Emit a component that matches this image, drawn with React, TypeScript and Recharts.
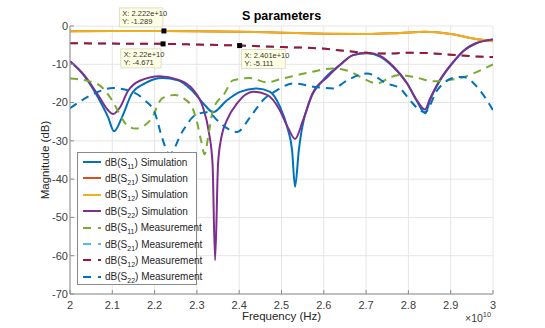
import { CartesianGrid, Line, LineChart, ReferenceDot, XAxis, YAxis } from "recharts";

// frequency in units of 1e10 Hz, magnitude in dB
const freqTicks = [2, 2.1, 2.2, 2.3, 2.4, 2.5, 2.6, 2.7, 2.8, 2.9, 3];
const dbTicks = [-70, -60, -50, -40, -30, -20, -10, 0];

const s11Sim = [
  [2.0, -9.2], [2.035, -13.2], [2.066, -18.6], [2.09, -23.8], [2.104, -27.5], [2.123, -23.8],
  [2.147, -17.5], [2.177, -15.0], [2.218, -13.6], [2.255, -14.2], [2.288, -16.8], [2.319, -20.7],
  [2.338, -22.5], [2.371, -19.4], [2.402, -17.2], [2.442, -16.3], [2.473, -17.2], [2.496, -21.0],
  [2.515, -27.0], [2.525, -32.4], [2.532, -42.0], [2.541, -32.4], [2.548, -27.0], [2.567, -19.4],
  [2.598, -14.2], [2.638, -10.2], [2.669, -7.6], [2.702, -7.1], [2.733, -8.0], [2.764, -10.7],
  [2.797, -15.0], [2.82, -19.6], [2.84, -22.8], [2.851, -19.4], [2.875, -14.2], [2.905, -9.6],
  [2.93, -6.5], [2.96, -4.5], [3.0, -3.5],
];

const s22Sim = [
  [2.0, -9.2], [2.035, -13.0], [2.066, -18.0], [2.09, -22.0], [2.102, -23.0], [2.118, -21.3],
  [2.137, -17.0], [2.165, -14.3], [2.212, -13.1], [2.255, -14.0], [2.29, -16.5], [2.315, -21.5],
  [2.328, -27.5], [2.337, -36.0], [2.343, -61.2], [2.35, -36.0], [2.358, -29.0], [2.371, -24.6],
  [2.395, -20.2], [2.433, -17.2], [2.466, -18.0], [2.496, -22.0], [2.515, -26.5], [2.532, -29.5],
  [2.551, -24.6], [2.574, -17.5], [2.608, -13.4], [2.638, -10.2], [2.669, -7.6], [2.702, -7.0],
  [2.733, -7.8], [2.764, -10.5], [2.797, -15.0], [2.82, -19.4], [2.839, -21.8], [2.851, -19.0],
  [2.875, -14.0], [2.905, -9.5], [2.93, -6.5], [2.96, -4.5], [3.0, -3.5],
];

const s12Sim = [
  [2.0, -1.4], [2.1, -1.3], [2.222, -1.289], [2.3, -1.35], [2.4, -1.5], [2.5, -1.75],
  [2.6, -2.0], [2.7, -2.1], [2.78, -1.8], [2.84, -1.5], [2.9, -2.1], [2.95, -3.2], [3.0, -4.0],
];
const s21Sim = s12Sim;

const s11Meas = [
  [2.0, -13.7], [2.04, -14.3], [2.07, -15.5], [2.1, -19.5], [2.12, -23.5], [2.135, -26.0],
  [2.155, -26.8], [2.19, -24.6], [2.218, -18.9], [2.248, -18.0], [2.27, -19.0], [2.29, -21.5],
  [2.3, -25.0], [2.31, -30.0], [2.318, -33.5], [2.328, -28.0], [2.338, -22.0], [2.366, -17.5],
  [2.385, -14.2], [2.425, -13.6], [2.465, -14.7], [2.5, -13.8], [2.567, -12.1], [2.62, -11.1],
  [2.66, -11.8], [2.686, -13.3], [2.726, -15.0], [2.755, -13.5], [2.78, -12.8], [2.82, -13.5],
  [2.858, -14.4], [2.92, -13.7], [2.953, -12.4], [3.0, -10.0],
];

const s12Meas = [
  [2.0, -4.5], [2.1, -4.6], [2.22, -4.671], [2.3, -4.85], [2.401, -5.111], [2.5, -5.5],
  [2.584, -5.8], [2.65, -6.5], [2.7, -7.0], [2.75, -7.2], [2.8, -7.0], [2.85, -7.1],
  [2.9, -7.5], [2.95, -7.9], [3.0, -8.1],
];
const s21Meas = s12Meas;

const s22Meas = [
  [2.0, -21.5], [2.028, -19.4], [2.066, -17.2], [2.102, -16.2], [2.147, -17.2], [2.177, -19.4],
  [2.201, -22.8], [2.218, -29.3], [2.235, -33.5], [2.265, -27.7], [2.296, -23.3], [2.326, -22.5],
  [2.348, -24.6], [2.371, -26.7], [2.395, -27.7], [2.426, -23.8], [2.456, -19.4], [2.489, -16.8],
  [2.527, -15.0], [2.584, -16.0], [2.622, -16.3], [2.655, -14.2], [2.702, -12.4], [2.749, -15.0],
  [2.78, -16.3], [2.804, -19.4], [2.827, -22.0], [2.839, -22.5], [2.868, -16.8], [2.905, -13.6],
  [2.929, -13.3], [2.969, -16.8], [2.993, -20.7], [3.0, -22.0],
];

// data tips shown on the plot
const dataTips = [
  { f: 2.222, db: -1.289, label: "2.222e+10", side: "upLeft" },
  { f: 2.22, db: -4.671, label: "2.22e+10", side: "downLeft" },
  { f: 2.401, db: -5.111, label: "2.401e+10", side: "downRight" },
];

const series = [
  { name: "11", kind: "Simulation", color: "#0072BD", data: s11Sim, dashed: false },
  { name: "21", kind: "Simulation", color: "#D95319", data: s21Sim, dashed: false },
  { name: "12", kind: "Simulation", color: "#EDB120", data: s12Sim, dashed: false },
  { name: "22", kind: "Simulation", color: "#7E2F8E", data: s22Sim, dashed: false },
  { name: "11", kind: "Measurement", color: "#77AC30", data: s11Meas, dashed: true },
  { name: "21", kind: "Measurement", color: "#4DBEEE", data: s21Meas, dashed: true },
  { name: "12", kind: "Measurement", color: "#A2142F", data: s12Meas, dashed: true },
  { name: "22", kind: "Measurement", color: "#0072BD", data: s22Meas, dashed: true },
];

const toPoints = (arr: number[][]) => arr.map(([f, db]) => ({ f, db }));
const FONT = "'Liberation Sans', Arial, Helvetica, sans-serif";
const fmtFreq = (v: number) => String(+v.toFixed(1));

const EmptyTick = () => <g />;

const TipShape = (props: any) => {
  const { cx, cy, tip } = props;
  const w = 4 + (tip.label.length + 3) * 3.3;
  const h = 19;
  let bx = cx + 2;
  let by = cy + 4;
  if (tip.side === "upLeft") {
    bx = cx - w - 1;
    by = cy - h - 4;
  } else if (tip.side === "downLeft") {
    bx = cx - w - 2;
    by = cy + 5;
  }
  return (
    <g>
      <rect x={bx} y={by} width={w} height={h} fill="#ffffe4" stroke="#d6d6c2" strokeWidth={0.8} />
      <text x={bx + 3} y={by + 8} fontSize={7.5} fill="#333" fontFamily={FONT}>
        X: {tip.label}
      </text>
      <text x={bx + 3} y={by + 16.5} fontSize={7.5} fill="#333" fontFamily={FONT}>
        Y: {tip.db}
      </text>
      <rect x={cx - 2.5} y={cy - 2.5} width={5} height={5} fill="#000" />
    </g>
  );
};

function LegendBox() {
  return (
    <div
      style={{
        position: "absolute",
        left: 77,
        top: 152,
        width: 120,
        height: 133,
        boxSizing: "border-box",
        border: "1px solid #8a8a8a",
        background: "#fff",
        fontFamily: FONT,
        fontSize: 10,
        color: "#262626",
      }}
    >
      {series.map((s, i) => (
        <div
          key={i}
          style={{ position: "absolute", left: 4, top: 1 + i * 16.4, height: 16, display: "flex", alignItems: "center", whiteSpace: "nowrap" }}
        >
          <svg width={20} height={6} style={{ marginRight: 3 }}>
            <line x1={1} y1={3} x2={19} y2={3} stroke={s.color} strokeWidth={2} strokeDasharray={s.dashed ? "8 7" : undefined} />
          </svg>
          <span>
            dB(S<sub style={{ fontSize: 7, verticalAlign: "-3px", lineHeight: 0 }}>{s.name}</sub>) {s.kind}
          </span>
        </div>
      ))}
    </div>
  );
}

export default function App() {
  return (
    <div style={{ position: "relative", width: 545, height: 328, background: "#fff", fontFamily: FONT }}>
      <style>{"body{margin:0}"}</style>
      <LineChart width={545} height={328} margin={{ top: 26, right: 52, bottom: 0, left: 0 }}>
        <CartesianGrid stroke="#e6e6e6" strokeWidth={1} />
        <XAxis
          dataKey="f"
          type="number"
          domain={[2, 3]}
          ticks={freqTicks}
          tickFormatter={fmtFreq}
          allowDataOverflow
          height={34}
          stroke="#8c8c8c"
          tickSize={-4}
          tickMargin={11}
          tick={{ fill: "#404040", fontSize: 11, fontFamily: FONT }}
        />
        <XAxis xAxisId="top" orientation="top" type="number" domain={[2, 3]} ticks={freqTicks} height={0} stroke="#8c8c8c" tickSize={-4} tick={EmptyTick} />
        <YAxis
          dataKey="db"
          type="number"
          domain={[-70, 0]}
          ticks={dbTicks}
          allowDataOverflow
          width={70}
          stroke="#8c8c8c"
          tickSize={-4}
          tickMargin={6}
          tick={{ fill: "#404040", fontSize: 11, fontFamily: FONT }}
        />
        <YAxis yAxisId="right" orientation="right" type="number" domain={[-70, 0]} ticks={dbTicks} width={0} stroke="#8c8c8c" tickSize={-4} tick={EmptyTick} />
        {series.map((s, i) => (
          <Line
            key={i}
            data={toPoints(s.data)}
            dataKey="db"
            type="monotone"
            stroke={s.color}
            strokeWidth={2}
            strokeDasharray={s.dashed ? "8 6" : undefined}
            dot={false}
            activeDot={false}
            isAnimationActive={false}
          />
        ))}
        {dataTips.map((t, i) => (
          <ReferenceDot key={i} x={t.f} y={t.db} r={3} shape={(p: any) => <TipShape {...p} tip={t} />} />
        ))}
      </LineChart>
      <div style={{ position: "absolute", left: 0, width: 563, top: 9, textAlign: "center", fontSize: 12.5, fontWeight: "bold", color: "#000" }}>
        S parameters
      </div>
      <div style={{ position: "absolute", left: 0, width: 563, top: 310, textAlign: "center", fontSize: 11.5, color: "#262626" }}>
        Frequency (Hz)
      </div>
      <div style={{ position: "absolute", left: 465, top: 312, fontSize: 10.5, color: "#404040" }}>
        ×10<sup style={{ fontSize: 7.5, verticalAlign: "5px", lineHeight: 0 }}>10</sup>
      </div>
      <div
        style={{
          position: "absolute",
          left: 45,
          top: 160,
          transform: "translate(-50%, -50%) rotate(-90deg)",
          whiteSpace: "nowrap",
          fontSize: 11.5,
          color: "#262626",
        }}
      >
        Magnitude (dB)
      </div>
      <LegendBox />
    </div>
  );
}
